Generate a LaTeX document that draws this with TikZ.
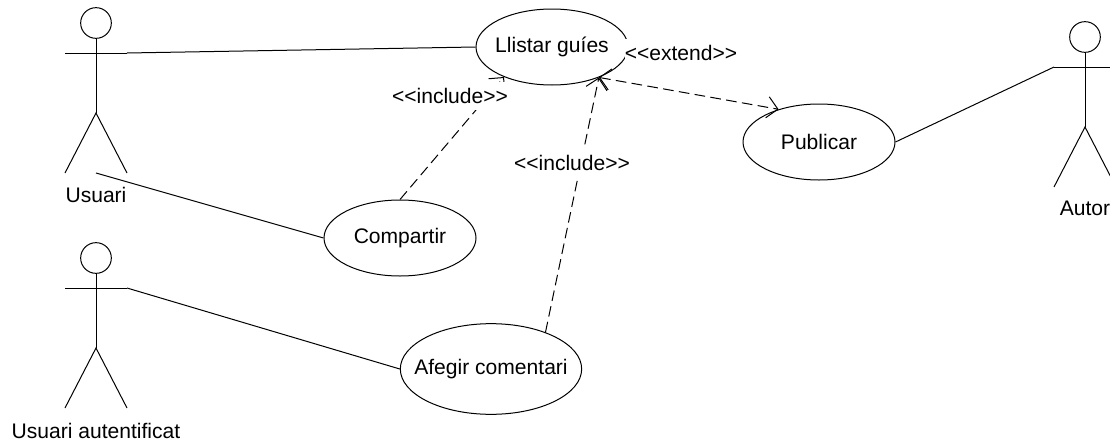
\documentclass[tikz,border=0pt]{standalone}
\usepackage{fontspec}
\setmainfont{Liberation Sans}
\usetikzlibrary{arrows.meta}
\usetikzlibrary{shapes.geometric}

\tikzset{
  usecase/.style={ellipse,draw,inner sep=0pt,minimum width=114pt,minimum height=57pt},
  stereotype/.style={fill=white,inner sep=0pt,minimum height=21pt},
  actorname/.style={inner sep=0pt},
  dep/.style={dash pattern=on 8pt off 4pt,-{Straight Barb[length=8pt,width=16pt]}},
  actor/.pic={
    \node [circle,draw,inner sep=0pt,minimum size=23pt] (-head) at (0,0) {};
    \draw (-head.south) -- (0,90);
    \draw (-31,30) -- (31,30);
    \draw (-31,150) -- (0,90) -- (31,150);
    \coordinate (-armleft) at (-31,30);
    \coordinate (-armright) at (31,30);
    \coordinate (-foot) at (0,150);
  }
}

\begin{document}
\begin{tikzpicture}[x=0.75pt,y=-0.75pt,line width=0.75pt,font=\fontsize{15.8pt}{18pt}\selectfont]
\useasboundingbox (0,0) rectangle (1110,443);

\pic (usuari) at (96,23) {actor};
\pic (autenticat) at (96,258) {actor};
\pic (autor) at (1085,37) {actor};

\node [actorname] (usuarilabel) at (96,195) {Usuari};
\node [actorname] (autenticatlabel) at (96,431) {Usuari autentificat};
\node [actorname] (autorlabel) at (1085,208) {Autor};

\node [usecase] (llistar) at (552,47) {\makebox[0pt]{Llistar guíes}};
\node [usecase] (publicar) at (819,142) {\makebox[0pt]{Publicar}};
\node [usecase] (compartir) at (400,238) {\makebox[0pt]{Compartir}};
\node [usecase,minimum width=136pt,minimum height=68pt] (afegir) at (491,369) {\makebox[0pt]{Afegir comentari}};

\draw (usuari-armright) -- (llistar.west);
\draw (usuari-foot) -- (compartir.west);
\draw (autenticat-armright) -- (afegir.west);
\draw (publicar.east) -- (autor-armleft);

\draw [dep] (compartir.north) -- (llistar.212);
\draw [dep] (afegir.34) -- (llistar.327);
\draw [dep,{Straight Barb[length=8pt,width=16pt]}-{Straight Barb[length=8pt,width=16pt]}] (llistar.327) -- (publicar.141);

\node [stereotype] (includea) at (450,96) {<{}<include>{}>};
\node [stereotype] (includeb) at (572,163) {<{}<include>{}>};
\node [stereotype] (extend) at (681,53) {<{}<extend>{}>};
\end{tikzpicture}
\end{document}
